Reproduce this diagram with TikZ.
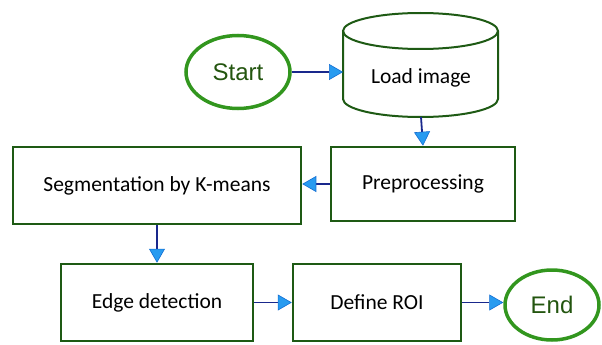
\documentclass[tikz,border=0pt]{standalone}
\usepackage{fontspec}
\setmainfont{Carlito}
\newfontfamily\termfont{Liberation Sans}
\usetikzlibrary{shapes.geometric,arrows.meta}
\definecolor{boxgreen}{RGB}{30,90,20}
\definecolor{termgreen}{RGB}{50,150,30}
\definecolor{termtext}{RGB}{35,85,15}
\definecolor{linenavy}{RGB}{25,40,140}
\definecolor{tipblue}{RGB}{40,155,240}
\definecolor{tipedge}{RGB}{20,110,210}
\tikzset{
  procbox/.style={draw=boxgreen, line width=2.5pt, rectangle, inner sep=0pt, font=\fontsize{21.5}{24}\selectfont},
  termnode/.style={draw=termgreen, line width=3.5pt, ellipse, inner sep=0pt, text=termtext, font=\termfont\fontsize{24}{26}\selectfont},
  flow/.style={draw=linenavy, line width=1.8pt, -{Triangle[length=14pt,width=16pt,fill=tipblue,color=tipedge,line width=0.6pt]}},
  cyl/.style={draw=boxgreen, line width=2pt}
}
\begin{document}
\begin{tikzpicture}[x=1pt,y=-1pt]
\useasboundingbox (0,0) rectangle (602,345);
% start
\node[termnode, minimum width=104pt, minimum height=73pt] (start) at (238,72) {Start};
% cylinder
\draw[cyl, fill=white] (343,31) -- (343,99) arc[start angle=180, end angle=360, x radius=77.5pt, y radius=18pt] -- (498,31);
\draw[cyl] (420.5,31) ellipse[x radius=77.5pt, y radius=18pt];
\node[font=\fontsize{21.5}{24}\selectfont] (load) at (421,78) {Load image};
\coordinate (loadW) at (343,72);
\coordinate (loadS) at (421,117);
% boxes
\node[procbox, minimum width=184pt, minimum height=74pt] (prep) at (423,184) {Preprocessing};
\node[procbox, minimum width=288pt, minimum height=77pt] (seg) at (157,185.5) {Segmentation by K-means};
\node[procbox, minimum width=192pt, minimum height=77pt] (edge) at (157,302.5) {Edge detection};
\node[procbox, minimum width=168pt, minimum height=77pt] (roi) at (377,302.5) {Define ROI};
\node[termnode, minimum width=94pt, minimum height=70pt] (end) at (552,305) {End};
% connectors
\draw[flow] (start.east) -- (loadW);
\draw[flow] (loadS) -- (prep.north);
\draw[flow] (prep.west) -- (prep.west -| seg.east);
\draw[flow] (seg.south) -- (edge.north);
\draw[flow] (edge.east) -- (roi.west);
\draw[flow] (roi.east) -- (roi.east -| end.west);
\end{tikzpicture}
\end{document}
